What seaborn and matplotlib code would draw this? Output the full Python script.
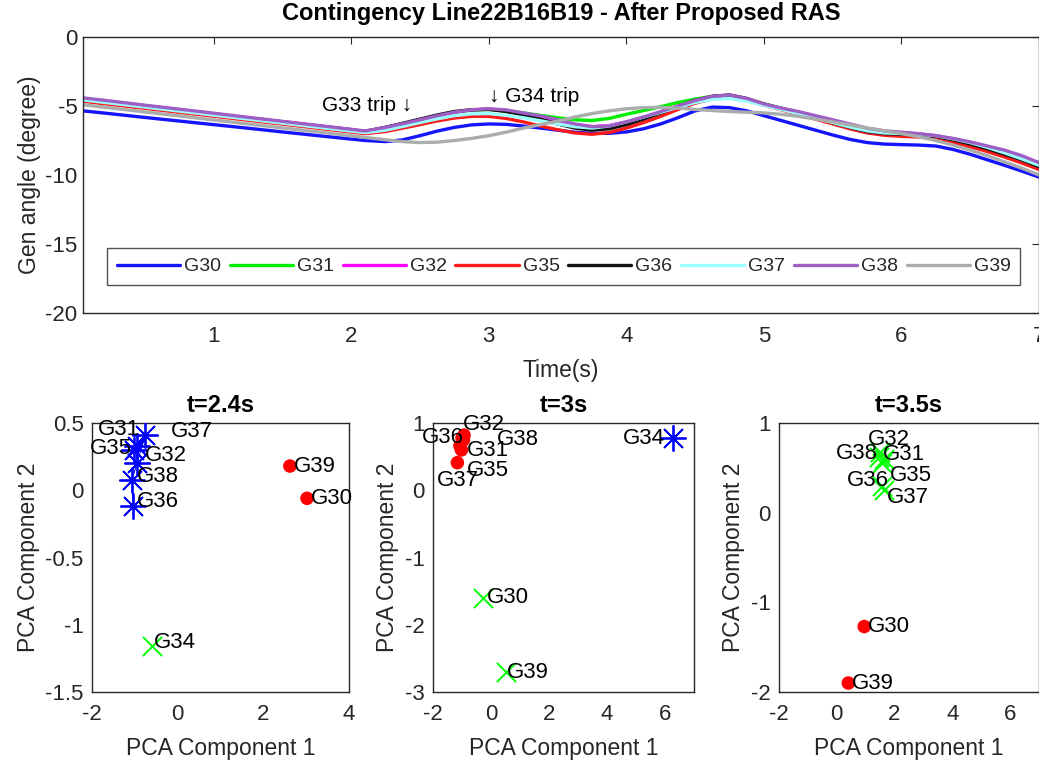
import matplotlib
matplotlib.use("Agg")
import matplotlib.pyplot as plt
import pandas as pd
import seaborn as sns

# ---------------------------------------------------------------- data
time_s = [0.0, 0.25, 0.5, 0.75, 1.0, 1.25, 1.5, 1.75, 2.0, 2.1, 2.25,
          2.375, 2.5, 2.625, 2.75, 2.875, 3.0, 3.125, 3.25, 3.375, 3.5, 3.625, 3.75,
          3.875, 4.0, 4.125, 4.25, 4.375, 4.5, 4.625, 4.75, 4.875, 5.0, 5.125, 5.25,
          5.375, 5.5, 5.625, 5.75, 5.875, 6.0, 6.125, 6.25, 6.375, 6.5, 6.625, 6.75,
          6.875, 7.0]

gen_names = ["G30", "G31", "G32", "G35", "G36", "G37", "G38", "G39"]

G30 = [-5.30, -5.56, -5.83, -6.09, -6.35, -6.61, -6.88, -7.14, -7.40, -7.50, -7.58,
       -7.45, -7.15, -6.82, -6.55, -6.37, -6.30, -6.33, -6.45, -6.60, -6.75, -6.90, -6.98,
       -6.98, -6.88, -6.65, -6.30, -5.85, -5.35, -5.08, -5.12, -5.35, -5.70, -6.05, -6.40,
       -6.75, -7.10, -7.42, -7.65, -7.76, -7.80, -7.83, -7.90, -8.15, -8.50, -8.90, -9.30,
       -9.72, -10.15]
G31 = [-4.45, -4.74, -5.02, -5.31, -5.59, -5.88, -6.16, -6.45, -6.73, -6.85, -6.55,
       -6.28, -6.00, -5.70, -5.45, -5.30, -5.25, -5.33, -5.50, -5.68, -5.85, -6.00, -6.05,
       -5.90, -5.60, -5.33, -5.05, -4.75, -4.50, -4.30, -4.25, -4.50, -4.85, -5.15, -5.45,
       -5.78, -6.10, -6.45, -6.75, -6.92, -7.00, -7.07, -7.15, -7.40, -7.70, -8.05, -8.45,
       -8.85, -9.35]
G32 = [-4.40, -4.69, -4.98, -5.27, -5.56, -5.85, -6.14, -6.42, -6.71, -6.83, -6.55,
       -6.28, -6.00, -5.70, -5.45, -5.28, -5.22, -5.33, -5.55, -5.80, -6.05, -6.33, -6.50,
       -6.42, -6.15, -5.82, -5.45, -5.02, -4.60, -4.32, -4.22, -4.48, -4.88, -5.17, -5.45,
       -5.78, -6.10, -6.42, -6.70, -6.87, -6.95, -7.03, -7.15, -7.38, -7.65, -7.95, -8.30,
       -8.70, -9.20]
G35 = [-4.60, -4.89, -5.17, -5.46, -5.74, -6.03, -6.31, -6.60, -6.89, -7.00, -6.85,
       -6.60, -6.35, -6.08, -5.87, -5.75, -5.75, -5.90, -6.15, -6.45, -6.72, -6.95, -7.05,
       -6.92, -6.60, -6.20, -5.75, -5.25, -4.80, -4.48, -4.35, -4.60, -4.95, -5.27, -5.60,
       -5.95, -6.30, -6.65, -6.95, -7.12, -7.20, -7.25, -7.35, -7.62, -7.95, -8.30, -8.70,
       -9.13, -9.60]
G36 = [-4.42, -4.71, -5.00, -5.29, -5.58, -5.87, -6.16, -6.44, -6.73, -6.85, -6.55,
       -6.25, -5.95, -5.65, -5.40, -5.27, -5.25, -5.40, -5.65, -5.95, -6.30, -6.60, -6.75,
       -6.65, -6.35, -5.95, -5.50, -5.05, -4.60, -4.30, -4.20, -4.45, -4.85, -5.20, -5.50,
       -5.85, -6.20, -6.55, -6.85, -7.00, -7.05, -7.10, -7.20, -7.45, -7.75, -8.10, -8.50,
       -8.90, -9.40]
G37 = [-4.50, -4.79, -5.08, -5.37, -5.66, -5.95, -6.24, -6.53, -6.82, -6.93, -6.75,
       -6.48, -6.20, -5.93, -5.70, -5.57, -5.55, -5.67, -5.85, -6.07, -6.30, -6.50, -6.60,
       -6.45, -6.15, -5.80, -5.45, -5.10, -4.75, -4.52, -4.45, -4.65, -4.95, -5.25, -5.55,
       -5.87, -6.20, -6.52, -6.80, -6.95, -7.00, -7.05, -7.15, -7.38, -7.65, -8.00, -8.40,
       -8.83, -9.30]
G38 = [-4.35, -4.64, -4.94, -5.23, -5.52, -5.82, -6.11, -6.40, -6.69, -6.81, -6.55,
       -6.28, -6.00, -5.70, -5.45, -5.27, -5.20, -5.28, -5.50, -5.72, -5.98, -6.30, -6.50,
       -6.45, -6.15, -5.80, -5.40, -5.00, -4.60, -4.30, -4.20, -4.45, -4.85, -5.15, -5.40,
       -5.70, -6.00, -6.30, -6.60, -6.80, -6.90, -7.00, -7.15, -7.35, -7.60, -7.90, -8.20,
       -8.60, -9.10]
G39 = [-4.85, -5.14, -5.43, -5.72, -6.01, -6.30, -6.59, -6.87, -7.16, -7.28, -7.45,
       -7.58, -7.65, -7.62, -7.50, -7.35, -7.15, -6.90, -6.60, -6.35, -6.10, -5.80, -5.55,
       -5.35, -5.20, -5.12, -5.10, -5.15, -5.25, -5.33, -5.40, -5.45, -5.50, -5.60, -5.75,
       -5.95, -6.15, -6.37, -6.60, -6.80, -7.00, -7.23, -7.50, -7.83, -8.20, -8.60, -9.05,
       -9.50, -10.00]

# PCA snapshots: generator, component 1, component 2, cluster
pca_24_gen = ["G31", "G35", "G37", "G32", "G38", "G36", "G39", "G30", "G34"]
pca_24_c1 = [-0.96, -1.02, -0.76, -0.95, -1.07, -1.04, 2.62, 3.02, -0.61]
pca_24_c2 = [0.33, 0.30, 0.41, 0.20, 0.076, -0.117, 0.18, -0.06, -1.16]
pca_24_cl = ["A", "A", "A", "A", "A", "A", "B", "B", "C"]

pca_30_gen = ["G32", "G36", "G38", "G31", "G35", "G37", "G34", "G30", "G39"]
pca_30_c1 = [-0.93, -1.00, -0.95, -1.07, -1.02, -1.16, 6.29, -0.29, 0.51]
pca_30_c2 = [0.82, 0.78, 0.75, 0.66, 0.60, 0.41, 0.77, -1.60, -2.71]
pca_30_cl = ["B", "B", "B", "B", "B", "B", "A", "C", "C"]

pca_35_gen = ["G32", "G38", "G31", "G35", "G36", "G37", "G30", "G39"]
pca_35_c1 = [1.50, 1.45, 1.62, 1.55, 1.58, 1.65, 0.95, 0.40]
pca_35_c2 = [0.68, 0.62, 0.60, 0.55, 0.30, 0.25, -1.27, -1.90]
pca_35_cl = ["C", "C", "C", "C", "C", "C", "B", "B"]

# where each generator name is written in the PCA panels (left edge, centre)
label_at_24 = {"G31": (-1.86, 0.45), "G35": (-2.05, 0.31), "G37": (-0.16, 0.44),
               "G32": (-0.76, 0.26), "G38": (-0.96, 0.10), "G36": (-0.96, -0.085),
               "G39": (2.72, 0.18), "G30": (3.12, -0.06), "G34": (-0.55, -1.13)}
label_at_30 = {"G32": (-0.96, 0.98), "G36": (-2.39, 0.78), "G38": (0.20, 0.76),
               "G31": (-0.84, 0.585), "G35": (-0.84, 0.29), "G37": (-1.87, 0.15),
               "G34": (4.56, 0.77), "G30": (-0.15, -1.60), "G39": (0.54, -2.71)}
label_at_35 = {"G32": (1.09, 0.82), "G38": (-0.02, 0.66), "G31": (1.61, 0.65),
               "G35": (1.84, 0.41), "G36": (0.34, 0.36), "G37": (1.73, 0.17),
               "G30": (1.09, -1.27), "G39": (0.52, -1.90)}

# ---------------------------------------------------------------- style
sns.set_theme(style="white")
FONT = ["Liberation Sans", "DejaVu Sans"]
plt.rcParams["font.family"] = FONT
plt.rcParams["axes.unicode_minus"] = False
plt.rcParams["axes.edgecolor"] = "#262626"
plt.rcParams["axes.linewidth"] = 1.0
plt.rcParams["xtick.color"] = "#262626"
plt.rcParams["ytick.color"] = "#262626"
plt.rcParams["text.color"] = "#262626"

TXT = "#262626"
TICK_FS = 16
LABEL_FS = 16.5
TITLE_FS = 17
NAME_FS = 16

line_colors = {"G30": "#1414ff", "G31": "#00ee00", "G32": "#ff00ff", "G35": "#ff1a1a",
               "G36": "#111111", "G37": "#99ffff", "G38": "#9e5fc4", "G39": "#a9adab"}

cluster_style = {"A": dict(color="#0000ff", marker=(8, 2, 0), s=330, linewidth=1.3),
                 "B": dict(color="#ff0000", marker="o", s=95, linewidth=0),
                 "C": dict(color="#00ff00", marker="x", s=190, linewidth=1.4)}

W, H = 1039, 766
fig = plt.figure(figsize=(W / 100, H / 100), dpi=100)
fig.patch.set_facecolor("white")


def frac(x0, y0, x1, y1):
    return [x0 / W, 1 - y1 / H, (x1 - x0) / W, (y1 - y0) / H]


def finish(ax, ypad=6):
    ax.tick_params(direction="in", top=True, right=True, length=5, width=0.8,
                   labelsize=TICK_FS, labelcolor=TXT)
    ax.tick_params(axis="x", pad=9)
    ax.tick_params(axis="y", pad=ypad)
    for sp in ax.spines.values():
        sp.set_visible(True)
        sp.set_color(TXT)


# ---------------------------------------------------------------- top: generator angles
ax = fig.add_axes(frac(83, 37, 1039, 313))
long = pd.DataFrame({"time": time_s * len(gen_names),
                     "angle": G30 + G31 + G32 + G35 + G36 + G37 + G38 + G39,
                     "gen": [g for g in gen_names for _ in time_s]})
sns.lineplot(data=long, x="time", y="angle", hue="gen", hue_order=gen_names,
             palette=line_colors, linewidth=2.4, legend=False, ax=ax, sort=False)
ax.set_xlim(0.05, 7)
ax.set_ylim(-20, 0)
ax.set_xticks([1, 2, 3, 4, 5, 6, 7])
ax.set_yticks([0, -5, -10, -15, -20])
ax.set_xlabel("Time(s)", fontsize=LABEL_FS, color=TXT, labelpad=9)
ax.set_ylabel("Gen angle (degree)", fontsize=LABEL_FS, color=TXT, labelpad=3)
ax.set_title("Contingency Line22B16B19 - After Proposed RAS", fontsize=TITLE_FS,
             fontweight="bold", color="black", pad=12)
finish(ax, ypad=4)
ax.text(2.445, -4.93, "G33 trip \u2193", ha="right", va="center", fontsize=15,
        color="black", family=FONT)
ax.text(3.0, -4.28, "\u2193 G34 trip", ha="left", va="center", fontsize=15,
        color="black", family=FONT)
leg = ax.legend(ax.get_lines()[:len(gen_names)], gen_names, loc="lower center",
                bbox_to_anchor=(0.503, 0.101), borderaxespad=0, ncol=len(gen_names),
                fontsize=14, frameon=True, fancybox=False, edgecolor="#262626",
                handlelength=3.25, handletextpad=0.2, columnspacing=0.45, borderpad=0.5)
leg.get_frame().set_linewidth(1.0)

# ---------------------------------------------------------------- bottom: PCA snapshots
panels = [
    ("t=2.4s", (92, 423, 349, 692), (-2, 4), (-1.5, 0.5), [-2, 0, 2, 4],
     [-1.5, -1, -0.5, 0, 0.5], pca_24_gen, pca_24_c1, pca_24_c2, pca_24_cl, label_at_24),
    ("t=3s", (433, 423, 694, 692), (-2, 7), (-3, 1), [-2, 0, 2, 4, 6],
     [-3, -2, -1, 0, 1], pca_30_gen, pca_30_c1, pca_30_c2, pca_30_cl, label_at_30),
    ("t=3.5s", (779, 423, 1039, 692), (-2, 7), (-2, 1), [-2, 0, 2, 4, 6],
     [-2, -1, 0, 1], pca_35_gen, pca_35_c1, pca_35_c2, pca_35_cl, label_at_35),
]

for title, box, xl, yl, xt, yt, gens, c1, c2, cl, label_at in panels:
    pax = fig.add_axes(frac(*box))
    df = pd.DataFrame({"gen": gens, "c1": c1, "c2": c2, "cluster": cl})
    if title == "t=2.4s":
        grp = df[df.cluster == "A"]
        pax.plot(grp.c1, grp.c2, color="#0000ff", lw=0.8, zorder=2)
    for key, sub in df.groupby("cluster"):
        st = cluster_style[key]
        sns.scatterplot(data=sub, x="c1", y="c2", color=st["color"], marker=st["marker"],
                        s=st["s"], linewidth=st["linewidth"],
                        edgecolor=st["color"] if key != "B" else "none",
                        ax=pax, legend=False, zorder=3)
    for g in gens:
        lx, ly = label_at[g]
        pax.text(lx, ly, g, ha="left", va="center", fontsize=NAME_FS, color="black",
                 family=FONT, zorder=4, clip_on=False)
    pax.set_xlim(*xl)
    pax.set_ylim(*yl)
    pax.set_xticks(xt)
    pax.set_yticks(yt)
    pax.set_xticklabels([f"{v:g}" for v in xt])
    pax.set_yticklabels([f"{v:g}" for v in yt])
    pax.set_xlabel("PCA Component 1", fontsize=LABEL_FS, color=TXT, labelpad=8)
    pax.set_ylabel("PCA Component 2", fontsize=LABEL_FS, color=TXT, labelpad=4)
    pax.set_title(title, fontsize=TITLE_FS, fontweight="bold", color="black", pad=8)
    finish(pax)
    pax.tick_params(top=False, right=False)

fig.savefig("out.png", dpi=100, facecolor="white")
